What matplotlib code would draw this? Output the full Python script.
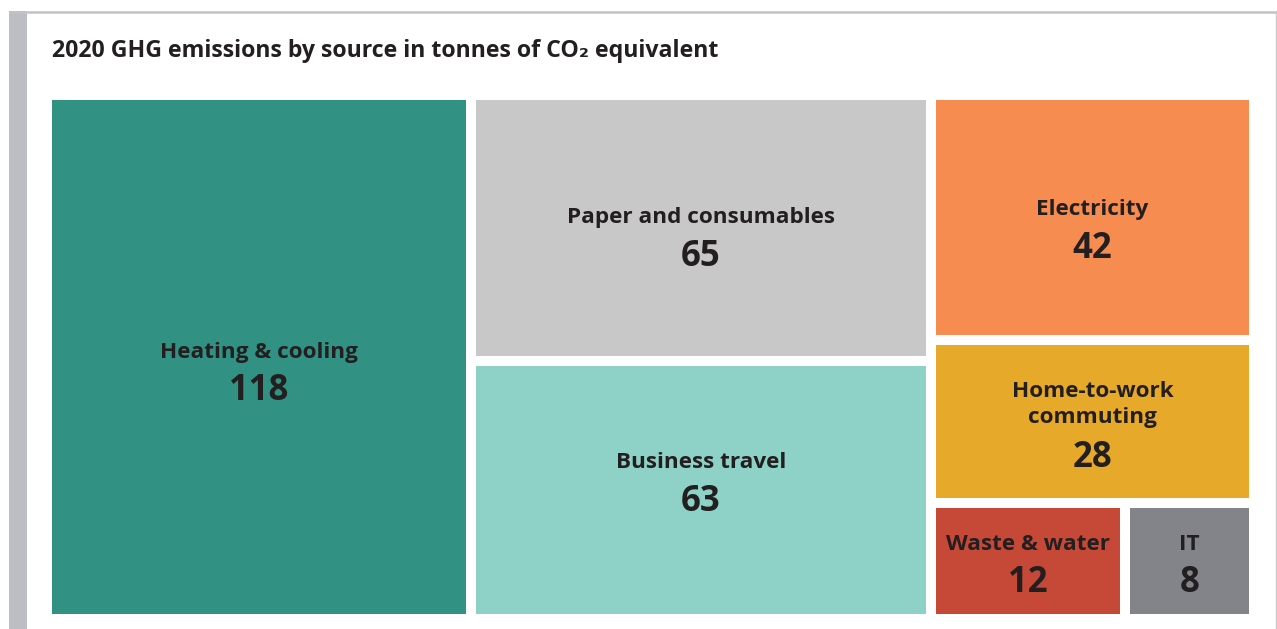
import matplotlib
matplotlib.use("Agg")
import matplotlib.pyplot as plt
from matplotlib.patches import Rectangle

plt.rcParams['font.family'] = ['Open Sans', 'DejaVu Sans']

# data
labels = ["Heating & cooling", "Paper and consumables", "Business travel",
          "Electricity", "Home-to-work\ncommuting", "Waste & water", "IT"]
values = [118, 65, 63, 42, 28, 12, 8]
colors = ["#319183", "#c8c8c8", "#8ed1c6", "#f78c50", "#e6a92a", "#c64836", "#838489"]
title = "2020 GHG emissions by source in tonnes of CO\u2082 equivalent"

# vertical nudge of each text block from the tile centre (px)
nudge = [15, 9, -8, 12, 17, 3, 3]

# layout: columns -> stacked rows -> bottom pair split side by side
x0, x1, y0, y1 = 47, 1254, 95, 619   # outer box incl. half-gaps
pad = 5
ink = "#231f20"

total = sum(values)
W = x1 - x0
H = y1 - y0
boxes = []
# column 1: heating
w1 = values[0] / total * W
boxes.append((0, x0, y0, w1, H))
# column 2: paper + business
c2 = values[1] + values[2]
w2 = c2 / total * W
h_p = values[1] / c2 * H
boxes.append((1, x0 + w1, y0, w2, h_p))
boxes.append((2, x0 + w1, y0 + h_p, w2, H - h_p))
# column 3: electricity, commuting, waste+IT
c3 = sum(values[3:])
w3 = c3 / total * W
xc = x0 + w1 + w2
h_e = values[3] / c3 * H
h_h = values[4] / c3 * H
boxes.append((3, xc, y0, w3, h_e))
boxes.append((4, xc, y0 + h_e, w3, h_h))
rest = values[5] + values[6]
w_w = values[5] / rest * w3
boxes.append((5, xc, y0 + h_e + h_h, w_w, H - h_e - h_h))
boxes.append((6, xc + w_w, y0 + h_e + h_h, w3 - w_w, H - h_e - h_h))

fig = plt.figure(figsize=(12.77, 6.29), dpi=100)
ax = fig.add_axes([0, 0, 1, 1])
ax.set_xlim(0, 1277)
ax.set_ylim(629, 0)
ax.axis("off")

# frame decoration
ax.add_patch(Rectangle((9, 11), 18, 620, color="#bdbec3", lw=0))
ax.plot([9, 1277], [11.5, 11.5], color="#c2c2c6", lw=1.8, solid_capstyle="butt")
ax.plot([1276, 1276], [11, 629], color="#cacaca", lw=1.0)

ax.text(52, 51, title, fontsize=16.7, fontweight="bold", color=ink, va="center", ha="left")

for i, x, y, w, h in boxes:
    ax.add_patch(Rectangle((x + pad, y + pad), w - 2 * pad, h - 2 * pad,
                           facecolor=colors[i], lw=0))
    cx = x + w / 2
    cy = y + h / 2 + nudge[i]
    nl = labels[i].count("\n")
    vy = cy + 19.5
    ax.text(cx, vy - 39 - nl * 14, labels[i], ha="center", va="center",
            fontsize=16.2, fontweight="bold", color=ink, linespacing=1.35)
    ax.text(cx, vy, str(values[i]), ha="center", va="center",
            fontsize=25, fontweight="bold", color=ink)

fig.savefig("out.png", dpi=100)
